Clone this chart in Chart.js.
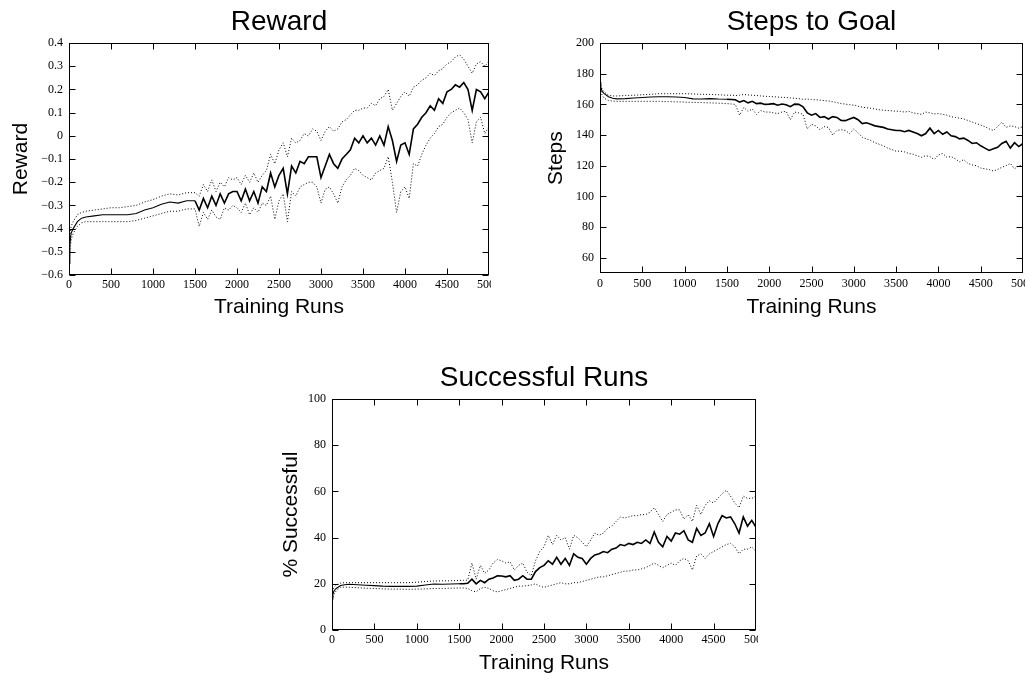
<!DOCTYPE html>
<html><head><meta charset="utf-8">
<script src="https://cdn.jsdelivr.net/npm/chart.js@4/dist/chart.umd.min.js"></script>
<style>
html,body{margin:0;padding:0;background:#fff;width:1032px;height:681px;overflow:hidden}
canvas{position:absolute}
</style></head><body>
<canvas id="c1" width="491" height="320" style="left:0;top:0"></canvas>
<canvas id="c2" width="495" height="320" style="left:530px;top:0"></canvas>
<canvas id="c3" width="496" height="320" style="left:262px;top:356px"></canvas>
<script>
// ---- shared x values (training runs) ----
const runs = [0,10,25,50,100,150,200,300,400,500,600,700,800,900,1000,1100,1200,1300,1400,1500,
1550,1600,1650,1700,1750,1800,1850,1900,1950,2000,
2050,2100,2150,2200,2250,2300,2350,2400,2450,2500,
2550,2600,2650,2700,2750,2800,2850,2900,2950,3000,
3050,3100,3150,3200,3250,3300,3350,3400,3450,3500,
3550,3600,3650,3700,3750,3800,3850,3900,3950,4000,
4050,4100,4150,4200,4250,4300,4350,4400,4450,4500,
4550,4600,4650,4700,4750,4800,4850,4900,4950,5000];
const xTicks = [0,500,1000,1500,2000,2500,3000,3500,4000,4500,5000];

// ---- Reward ----
const rewardTicks = [-0.6,-0.5,-0.4,-0.3,-0.2,-0.1,0,0.1,0.2,0.3,0.4];
const rewardMean = [-0.55,-0.47,-0.42,-0.40,-0.37,-0.355,-0.35,-0.345,-0.34,-0.34,-0.34,-0.34,-0.335,-0.32,-0.31,-0.295,-0.285,-0.29,-0.28,-0.28,
-0.32,-0.27,-0.31,-0.26,-0.30,-0.25,-0.29,-0.25,-0.24,-0.24,
-0.28,-0.23,-0.28,-0.24,-0.29,-0.22,-0.24,-0.16,-0.22,-0.17,
-0.14,-0.25,-0.13,-0.16,-0.11,-0.12,-0.09,-0.09,-0.09,-0.18,
-0.13,-0.08,-0.12,-0.14,-0.10,-0.08,-0.06,-0.01,-0.03,0.0,
-0.03,-0.01,-0.04,0.0,-0.04,0.04,-0.02,-0.11,-0.04,-0.03,
-0.08,0.03,0.05,0.08,0.10,0.13,0.11,0.16,0.14,0.19,
0.20,0.22,0.21,0.23,0.20,0.11,0.20,0.19,0.16,0.19];
const rewardUpper = [-0.50,-0.44,-0.39,-0.37,-0.34,-0.33,-0.325,-0.32,-0.315,-0.31,-0.31,-0.305,-0.30,-0.285,-0.275,-0.26,-0.25,-0.255,-0.245,-0.245,
-0.26,-0.21,-0.24,-0.19,-0.24,-0.20,-0.22,-0.18,-0.19,-0.18,
-0.21,-0.17,-0.20,-0.16,-0.20,-0.17,-0.15,-0.08,-0.12,-0.06,
-0.03,-0.09,-0.01,-0.03,-0.02,0.01,0.0,0.03,0.02,-0.02,
0.02,0.04,0.02,0.03,0.06,0.07,0.09,0.11,0.11,0.12,
0.12,0.14,0.13,0.16,0.17,0.20,0.11,0.14,0.17,0.19,
0.17,0.21,0.22,0.24,0.25,0.27,0.26,0.28,0.29,0.31,
0.32,0.34,0.35,0.33,0.30,0.27,0.31,0.32,0.30,0.32];
const rewardLower = [-0.58,-0.50,-0.45,-0.42,-0.39,-0.375,-0.37,-0.37,-0.37,-0.37,-0.37,-0.37,-0.365,-0.355,-0.345,-0.335,-0.325,-0.325,-0.315,-0.315,
-0.39,-0.33,-0.36,-0.32,-0.35,-0.36,-0.31,-0.32,-0.30,-0.31,
-0.33,-0.29,-0.34,-0.31,-0.33,-0.29,-0.30,-0.26,-0.36,-0.28,
-0.25,-0.37,-0.24,-0.26,-0.22,-0.21,-0.20,-0.20,-0.22,-0.29,
-0.23,-0.22,-0.25,-0.29,-0.22,-0.19,-0.17,-0.14,-0.15,-0.17,
-0.18,-0.19,-0.16,-0.15,-0.14,-0.09,-0.20,-0.33,-0.24,-0.22,
-0.27,-0.12,-0.13,-0.08,-0.04,-0.01,0.01,0.04,0.05,0.08,
0.10,0.11,0.12,0.10,0.07,-0.03,0.06,0.08,0.01,0.04];

// ---- Steps to Goal ----
const stepsTicks = [60,80,100,120,140,160,180,200];
const stepsMean = [174.5,171,168.5,167,165,164,163.6,163.8,164.2,164.5,164.8,165,165,164.8,164.5,163.6,163.5,163.8,163.5,163.4,
163.2,163,161.5,162.5,161,162,160.5,160.8,160,160.2,
160.5,159.5,160.3,159.8,158.5,160.2,160,158.4,154.5,153,
154,151.5,152,150.5,152,151.5,149.5,149.4,150.5,151.5,
150,147.5,148,147,146,145.5,145,144,143.5,143,
143,142.2,143,142,141,139.5,141,144.5,141,143,
140.5,142,139.5,139,137.5,138,136.5,134.5,135,133,
131.5,130,131,132,134.5,136,131.5,135,132.5,134.5];
const stepsUpper = [174.5,172,170,168,166,165.5,165.5,165.8,166,166.3,166.6,167,167,167,167,166.8,166.6,166.5,166.3,166,
166,165.8,166,166.5,166.2,166,165.8,165.5,165.3,165.2,
165,164.8,164.6,164.5,164.2,164,163.8,163.3,163.5,163.2,
163,162.8,162.5,162.2,161.8,161.2,160.5,160.2,159.8,159.5,
158.8,158.2,157.8,157.5,157,156.5,156.2,156,155.8,155.6,
155.5,155,155.5,154.5,154,153.5,155,154.5,153.8,154,
153.5,153,152,151.5,151,150.5,149.5,148.5,147.5,146.5,
145.5,144,143,145.5,148.5,145,146,145.5,144.5,145.5];
const stepsLower = [174.5,169,166,164,162.5,162.2,162,162,162,162,162,162,161.8,161.7,161.5,161.3,161.2,161,160.8,160.5,
160.3,160,153,158,155.5,157,153.5,156,155,155,
154.5,154,155,155.5,150,155,154.5,153.5,144,147,
146,143.5,145.5,145,140,143,143.5,143,141,144,
141.5,138.5,137.5,136.5,135,134,133,131.5,130.5,129.5,
129.5,129,128,127.5,126.5,125.5,126.5,126,124,127,
128,125.5,126,124.5,122.5,124,121.5,120.5,120,118.5,
118,117.5,116.5,117.5,119,120,121.5,118,120,120.5];

// ---- Successful Runs ----
const successTicks = [0,20,40,60,80,100];
const successMean = [13.5,15.5,17,18,19.3,19.6,19.8,19.6,19.4,19.2,19,18.9,18.9,18.9,19,19.5,19.9,19.8,19.9,20,
20,20.2,22,20,21.5,20.5,22,22.5,23.5,23.4,
23,23.5,21.5,22,23.5,22,22,25.3,27,28,
30,28.5,31.5,28.5,31,28,33,31.5,31,28.5,
31,32.5,33,34,33.5,35,35.5,37,36.5,37.5,
37,38,37.5,39,37.5,42.5,38,36,40.5,38.5,
42,41.5,43,39,38,44,41,42,46,40.5,
46,49.5,48.5,49,46,42,49,45,47.5,44.5];
const successUpper = [14,17,18.5,19.5,20.3,20.5,20.5,20.5,20.5,20.5,20.5,20.5,20.5,20.5,20.7,21,21.2,21.3,21.3,21.5,
21.5,21.6,29,22,28,24.5,26,29,30.5,30,
29,29.5,26,28,29,25,23.5,30,34,36,
41,37,41,39,40,35,41,40,38,36,
39,42,41,42,44,45,47,49,48.5,49,
49.5,49.5,50,50,51,53,50,47,50,51,
52,52,48,50,47,54,50,54,56,55,
57,59,60.5,58,55,53,58,57,57,58];
const successLower = [13,14,15.5,17,18.5,18.6,18.5,18.3,18.1,18,17.8,17.7,17.7,17.6,17.7,17.8,18,18,18.1,18.2,
18.2,18,17,16.5,18,18.5,18,17,16.5,17,
17.5,18,18.5,19,19,19.2,19.5,20,19,18.5,
19,19.5,20,20.5,20,20,20.5,20.5,21,21.5,
22,22.5,23,23,23.5,24,24.5,25,25.5,25.5,
26,26,26.5,27,28,29,28,27,28,29,
28,30,31,30,26,32,33,31,33,34,
35,36,37,37.5,36,33,35,35,36,34];

// ---- drawing helpers ----
const SANS = "'Liberation Sans', Arial, sans-serif";
const SERIF = "'Liberation Serif', 'Times New Roman', serif";

const framePlugin = {
  id: 'frame',
  afterDatasetsDraw(chart) {
    const {ctx, chartArea: a, scales} = chart;
    const x = scales.x, y = scales.y;
    const L = Math.round(a.left) + 0.5, R = Math.round(a.right) - 0.5;
    const T = Math.round(a.top) + 0.5, B = Math.round(a.bottom) - 0.5;
    ctx.save();
    ctx.strokeStyle = '#000';
    ctx.lineWidth = 1;
    ctx.strokeRect(L, T, R - L, B - T);
    ctx.beginPath();
    x.ticks.forEach(t => {
      let px = Math.round(x.getPixelForValue(t.value)) + 0.5;
      if (px > R) px = R;
      ctx.moveTo(px, B); ctx.lineTo(px, B - 6);
      ctx.moveTo(px, T); ctx.lineTo(px, T + 6);
    });
    y.ticks.forEach(t => {
      const py = Math.round(y.getPixelForValue(t.value)) + 0.5;
      ctx.moveTo(L, py); ctx.lineTo(L + 6, py);
      ctx.moveTo(R, py); ctx.lineTo(R - 6, py);
    });
    ctx.stroke();
    ctx.restore();
  }
};

function series(vals, dotted) {
  return {
    data: runs.map((r, i) => ({x: r, y: vals[i]})),
    borderColor: '#000',
    borderWidth: 1,
    borderDash: dotted ? [1, 2] : [],
    pointRadius: 0,
    tension: 0,
    fill: false,
    segment: dotted ? {} : { borderWidth: s => (s.p0.parsed.x >= 1500 ? 1.6 : 1.1) }
  };
}

function fmtTick(v, decimals) {
  if (Math.abs(v) < 1e-9) return '0';
  return v.toFixed(decimals).replace('-', '\u2212');
}

function makeChart(id, c) {
  new Chart(document.getElementById(id), {
    type: 'line',
    data: { datasets: [series(c.mean, false), series(c.upper, true), series(c.lower, true)] },
    plugins: [framePlugin],
    options: {
      responsive: false,
      animation: false,
      devicePixelRatio: 1,
      layout: { padding: { left: 0, top: 0, bottom: 0, right: 2 } },
      plugins: {
        legend: { display: false },
        tooltip: { enabled: false },
        title: {
          display: true, text: c.title, color: '#000', fullSize: false,
          font: { family: SANS, size: 28, weight: 'normal' },
          padding: { top: 5, bottom: 4.5 }
        }
      },
      scales: {
        x: {
          type: 'linear', min: 0, max: 5000,
          afterBuildTicks: s => { s.ticks = xTicks.map(v => ({value: v})); },
          afterFit: s => { s.height = c.xHeight; s.paddingRight = 0; s.paddingLeft = 0; },
          grid: { display: false, drawTicks: false },
          border: { display: false },
          ticks: {
            color: '#000', padding: c.xPad, maxRotation: 0, autoSkip: false,
            font: { family: SERIF, size: 12 },
            callback: v => String(v)
          },
          title: {
            display: true, text: 'Training Runs', color: '#000',
            font: { family: SANS, size: 21, weight: 'normal' },
            padding: { top: 0, bottom: 0 }
          }
        },
        y: {
          type: 'linear', min: c.yMin, max: c.yMax,
          afterBuildTicks: s => { s.ticks = c.yTicks.map(v => ({value: v})); },
          afterFit: s => { s.width = c.yWidth; },
          grid: { display: false, drawTicks: false },
          border: { display: false },
          ticks: {
            color: '#000', padding: 6, autoSkip: false,
            font: { family: SERIF, size: 12 },
            callback: v => fmtTick(v, c.dec)
          },
          title: {
            display: true, text: c.yTitle, color: '#000',
            font: { family: SANS, size: 21, weight: 'normal' },
            padding: { top: c.yTitlePad, bottom: 0 }
          }
        }
      }
    }
  });
}

makeChart('c1', { title: 'Reward', yTitle: 'Reward', mean: rewardMean, upper: rewardUpper, lower: rewardLower,
  yMin: -0.6, yMax: 0.4, yTicks: rewardTicks, dec: 1, yWidth: 69, yTitlePad: 9, xHeight: 45, xPad: 3 });
makeChart('c2', { title: 'Steps to Goal', yTitle: 'Steps', mean: stepsMean, upper: stepsUpper, lower: stepsLower,
  yMin: 50, yMax: 200, yTicks: stepsTicks, dec: 0, yWidth: 70, yTitlePad: 14, xHeight: 47, xPad: 4 });
makeChart('c3', { title: 'Successful Runs', yTitle: '% Successful', mean: successMean, upper: successUpper, lower: successLower,
  yMin: 0, yMax: 100, yTicks: successTicks, dec: 0, yWidth: 70, yTitlePad: 17, xHeight: 46, xPad: 3 });
</script>
</body></html>
